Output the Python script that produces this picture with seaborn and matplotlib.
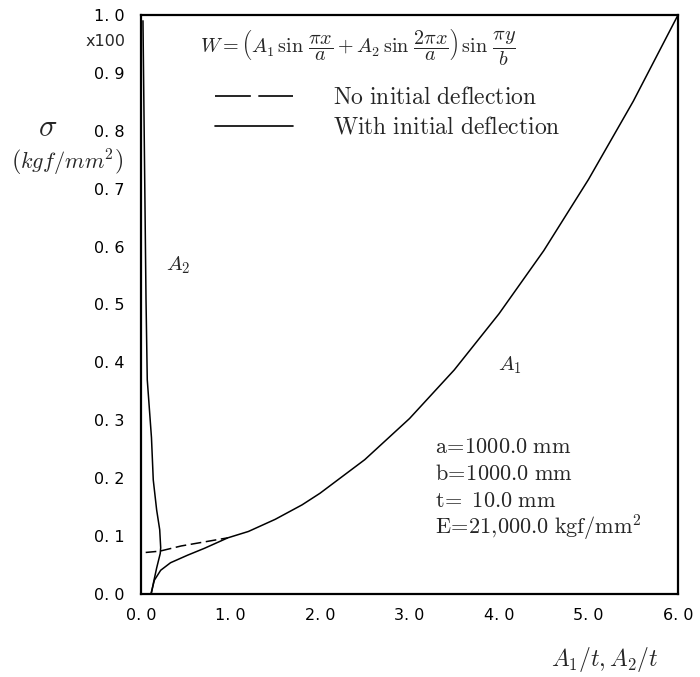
import numpy as np
import pandas as pd
import matplotlib
matplotlib.use("Agg")
import matplotlib.pyplot as plt
from matplotlib.lines import Line2D
import seaborn as sns

sns.set_theme(style="white")
plt.rcParams['font.family'] = ['DejaVu Sans']
plt.rcParams['mathtext.fontset'] = 'cm'

# ---- data ----
# A1 with initial deflection (solid)
a1_init_x = [0.11, 0.15, 0.22, 0.33, 0.52, 0.71, 0.97, 1.2, 1.5, 1.8, 2.0, 2.5,
             3.0, 3.5, 4.0, 4.5, 5.0, 5.5, 6.0]
a1_init_s = [0.0, 0.024, 0.041, 0.054, 0.067, 0.079, 0.097, 0.108, 0.129, 0.154,
             0.174, 0.232, 0.303, 0.387, 0.484, 0.593, 0.716, 0.851, 1.0]
# A1 without initial deflection (dashed)
a1_none_x = [0.0, 0.0, 0.21, 0.45, 0.71, 0.97]
a1_none_s = [0.0, 0.071, 0.074, 0.083, 0.090, 0.097]
# A2 with initial deflection (solid)
a2_init_x = [0.115, 0.14, 0.175, 0.215, 0.22, 0.209, 0.175, 0.137, 0.117, 0.070,
             0.056, 0.039, 0.022]
a2_init_s = [0.0, 0.02, 0.045, 0.07, 0.08, 0.111, 0.145, 0.197, 0.27, 0.37,
             0.508, 0.75, 0.99]
# A2 without initial deflection (dashed, stays zero)
a2_none_x = [0.0, 0.0]
a2_none_s = [0.0, 1.0]

x_ticks = [0, 1, 2, 3, 4, 5, 6]
x_tick_labels = ["0. 0", "1. 0", "2. 0", "3. 0", "4. 0", "5. 0", "6. 0"]
y_ticks = [0.0, 0.1, 0.2, 0.3, 0.4, 0.5, 0.6, 0.7, 0.8, 0.9, 1.0]
y_tick_labels = ["0. 0", "0. 1", "0. 2", "0. 3", "0. 4", "0. 5", "0. 6",
                 "0. 7", "0. 8", "0. 9", "1. 0"]
legend_labels = [r"$\mathrm{No\ initial\ deflection}$",
                 r"$\mathrm{With\ initial\ deflection}$"]
params = [r"$\mathrm{a\!=\!1000.0\ mm}$",
          r"$\mathrm{b\!=\!1000.0\ mm}$",
          r"$\mathrm{t\!=\ 10.0\ mm}$",
          r"$\mathrm{E\!=\!21{,}000.0\ kgf/mm^2}$"]

W, H = 700, 677
fig = plt.figure(figsize=(7.0, 6.77), dpi=100)
L, R, T, B = 141, 678, 15, 594
ax = fig.add_axes([L / W, (H - B) / H, (R - L) / W, (B - T) / H])
ax.set_facecolor("white")

dash = (0, (7, 3))
sns.lineplot(x=a1_init_x, y=a1_init_s, sort=False, estimator=None, ax=ax,
             color="black", lw=1.1)
sns.lineplot(x=a1_none_x, y=a1_none_s, sort=False, estimator=None, ax=ax,
             color="black", lw=1.1, linestyle=dash)
sns.lineplot(x=a2_init_x, y=a2_init_s, sort=False, estimator=None, ax=ax,
             color="black", lw=1.1)
sns.lineplot(x=a2_none_x, y=a2_none_s, sort=False, estimator=None, ax=ax,
             color="black", lw=1.1, linestyle=dash)

ax.set_xlim(0, 6)
ax.set_ylim(0, 1.0)
ax.set_xticks(x_ticks)
ax.set_xticklabels(x_tick_labels)
ax.set_yticks(y_ticks)
ax.set_yticklabels(y_tick_labels)
ax.tick_params(direction="in", length=7, width=1.2, colors="black",
               labelsize=11.5, pad=12)
ax.tick_params(axis="x", pad=10)
for s in ax.spines.values():
    s.set_visible(True)
    s.set_color("black")
    s.set_linewidth(1.6)
ax.set_xlabel("")
ax.set_ylabel("")

# legend
handles = [Line2D([], [], color="black", lw=1.2, linestyle=(0, (21.5, 4.5))),
           Line2D([], [], color="black", lw=1.2)]
ax.legend(handles=handles, labels=legend_labels, frameon=False,
          loc="upper left", bbox_to_anchor=((215 - L) / (R - L), (B - 85) / (B - T)),
          borderpad=0, borderaxespad=0, handlelength=3.3, handletextpad=1.7,
          labelspacing=0.25, fontsize=17)

# equation
ax.text((358 - L) / (R - L), (B - 47) / (B - T),
        r"$W=\left(A_1\,\sin\,\dfrac{\pi x}{a}+A_2\,\sin\,\dfrac{2\pi x}{a}\right)\,\sin\,\dfrac{\pi y}{b}$",
        transform=ax.transAxes, ha="center", va="center", fontsize=14.5)

# curve labels
ax.text((178 - L) / (R - L), (B - 265) / (B - T), r"$A_2$",
        transform=ax.transAxes, ha="center", va="center", fontsize=15)
ax.text((510 - L) / (R - L), (B - 365) / (B - T), r"$A_1$",
        transform=ax.transAxes, ha="center", va="center", fontsize=15)

# parameter block
for i, p in enumerate(params):
    ax.text((435 - L) / (R - L), (B - (447 + 27 * i)) / (B - T), p,
            transform=ax.transAxes, ha="left", va="center", fontsize=16)

# outside labels
fig.text(106 / W, 1 - 42 / H, "x100", ha="center", va="center", fontsize=11.5)
fig.text(48 / W, 1 - 128 / H, r"$\sigma$", ha="center", va="center", fontsize=22)
fig.text(67 / W, 1 - 163 / H, r"$\left(kgf/mm^2\right)$", ha="center",
         va="center", fontsize=16)
fig.text(605 / W, 1 - 660 / H, r"$A_1/t, A_2/t$", ha="center", va="center",
         fontsize=17)

fig.savefig("out.png", dpi=100, facecolor="white")
